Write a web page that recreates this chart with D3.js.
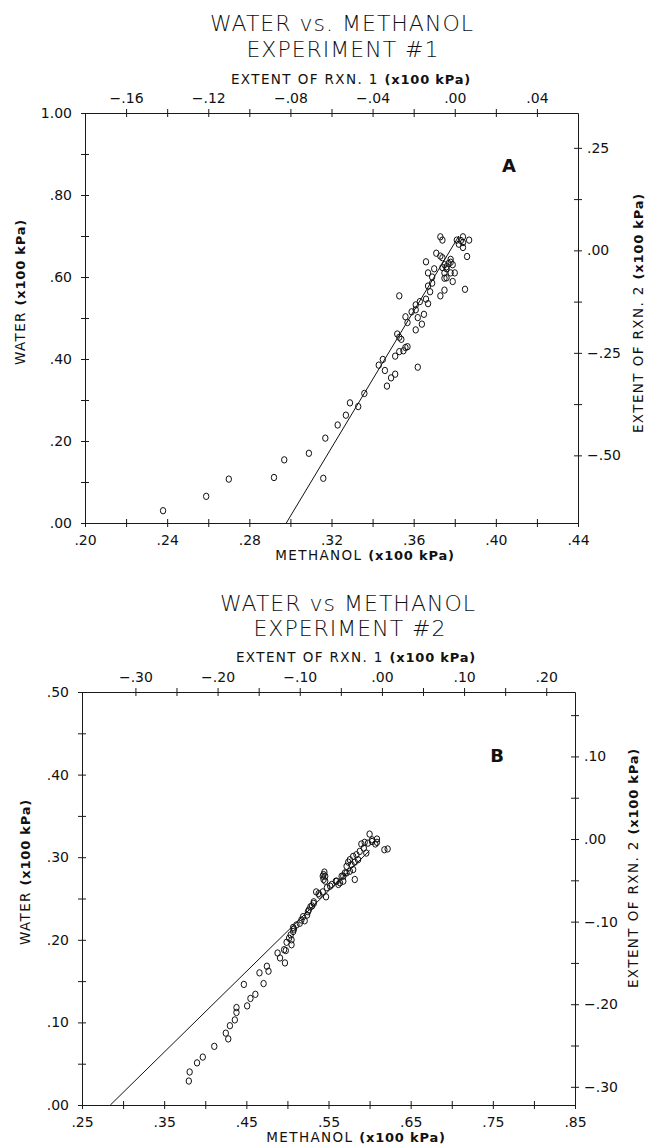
<!DOCTYPE html>
<html>
<head>
<meta charset="utf-8">
<script src="https://cdn.jsdelivr.net/npm/d3@7"></script>
<style>
  body { margin: 0; background: #fff; }
  svg { display: block; }
  text { font-family: "DejaVu Sans", sans-serif; fill: #111; }
  .title { font-size: 22px; font-weight: 200; letter-spacing: 1px; }
  .lab { font-size: 13.5px; font-weight: normal; letter-spacing: 1.4px; }
  .unit { font-size: 13px; font-weight: bold; letter-spacing: 0.8px; }
  .tick text { font-size: 14px; font-family: "DejaVu Sans", sans-serif; fill: #111; }
  .axis path, .axis line { stroke: #1a1a1a; stroke-width: 1; }
  .letter { font-size: 18px; font-weight: bold; }
</style>
</head>
<body>
<div id="chart"></div>
<script>
const FRAME_WIDTH = 645;
const FRAME_HEIGHT = 1147;

// ---- Experiment #1 (panel A) ----
const methanolA = [.238,.259,.270,.292,.297,.309,.316,.317,.323,.327,.329,.333,.336,.343,.345,.346,.347,.349,.351,.351,
                   .352,.353,.354,.353,.355,.356,.357,.362,.361,.356,.357,.359,.361,.362,.364,.365,.361,.363,.366,.367,
                   .368,.353,.373,.375,.375,.376,.377,.376,.379,.385,.378,.375,.374,.366,.367,.373,.386,.374,.373,.374,
                   .371,.381,.384,.387,.383,.384,.382,.384,.378,.378,.379,.375,.380,.376,.369,.370,.369,.367];
const waterA    = [.030,.065,.107,.111,.154,.170,.109,.207,.239,.263,.293,.284,.316,.385,.399,.372,.334,.354,.363,.407,
                   .461,.453,.448,.418,.420,.428,.430,.380,.471,.503,.489,.515,.520,.501,.485,.509,.532,.540,.546,.535,
                   .564,.554,.554,.568,.597,.625,.633,.620,.589,.570,.610,.610,.623,.637,.610,.651,.650,.647,.698,.690,
                   .658,.690,.698,.690,.689,.684,.680,.672,.643,.636,.630,.630,.610,.598,.600,.620,.585,.578];
const fitMethanolA = [.298, .382];
const fitWaterA = [.000, .700];

// ---- Experiment #2 (panel B) ----
const methanolB = [.380,.381,.390,.397,.411,.425,.428,.430,.436,.438,.438,.447,.451,.455,.461,.466,.471,.475,.477,.488,
                   .491,.497,.496,.498,.499,.502,.504,.507,.507,.508,.511,.515,.517,.521,.525,.526,.530,.532,.535,.539,
                   .543,.544,.547,.505,.505,.546,.546,.519,.524,.528,.532,.538,.543,.548,.554,.560,.564,.568,.572,.582,
                   .600,.603,.603,.609,.609,.607,.598,.594,.590,.622,.618,.593,.588,.584,.580,.596,.586,.582,.576,.574,
                   .578,.572,.580,.576,.570,.566,.559,.562,.568,.552,.544,.545];
const waterB    = [.029,.040,.051,.058,.071,.087,.080,.096,.103,.112,.118,.146,.120,.129,.134,.160,.147,.168,.162,.184,
                   .178,.172,.188,.187,.197,.202,.206,.210,.215,.213,.218,.220,.224,.223,.234,.236,.241,.246,.258,.254,
                   .277,.273,.252,.200,.194,.277,.271,.228,.230,.240,.244,.256,.258,.263,.267,.271,.269,.277,.281,.273,
                   .328,.319,.321,.322,.318,.316,.317,.318,.316,.310,.309,.311,.307,.303,.301,.305,.297,.294,.297,.294,
                   .291,.289,.285,.283,.281,.277,.271,.267,.271,.265,.279,.282];
const fitMethanolB = [.2845, .600];
const fitWaterB = [.000, .308];

// tick values (labelled / unlabelled)
const xMajorA = [.20,.24,.28,.32,.36,.40,.44],   xMinorA = [.22,.26,.30,.34,.38,.42];
const topMajorA = [-.16,-.12,-.08,-.04,.00,.04], topMinorA = [-.14,-.10,-.06,-.02,.02];
const yMajorA = [.00,.20,.40,.60,.80,1.00],      yMinorA = [.10,.30,.50,.70,.90];
const rightMajorA = [.25,.00,-.25,-.50],         rightMinorA = [.125,-.125,-.375];

const xMajorB = [.25,.35,.45,.55,.65,.75,.85],   xMinorB = [.30,.40,.50,.60,.70,.80];
const topMajorB = [-.30,-.20,-.10,.00,.10,.20],  topMinorB = [-.25,-.15,-.05,.05,.15];
const yMajorB = [.00,.10,.20,.30,.40,.50],       yMinorB = [.05,.15,.25,.35,.45];
const rightMajorB = [.10,.00,-.10,-.20,-.30],    rightMinorB = [.15,.05,-.05,-.15,-.25];

const SVG = d3.select('#chart')
    .append('svg')
        .attr('width', FRAME_WIDTH)
        .attr('height', FRAME_HEIGHT);

// ".20" style numbers, long minus
function fmt(v) {
    let s = d3.format('.2f')(Math.abs(v));
    if (s.startsWith('0')) s = s.slice(1);
    return (v < -1e-9 ? '\u2212' : '') + s;
}

// axis whose ticks cross the line
function drawAxis(axisFn, scale, majors, minors, tx, ty, pad) {
    const vertical = (axisFn === d3.axisLeft || axisFn === d3.axisRight);
    const g = SVG.append('g')
        .attr('class', 'axis')
        .attr('transform', 'translate(' + tx + ',' + ty + ')')
        .call(axisFn(scale)
            .tickValues(majors.concat(minors))
            .tickFormat(d => majors.includes(d) ? fmt(d) : '')
            .tickSize(4)
            .tickSizeOuter(0)
            .tickPadding(pad));
    g.selectAll('.tick line')
        .attr(vertical ? 'x1' : 'y1', -4)
        .attr(vertical ? 'x2' : 'y2', 4);
    return g;
}

function axisLabel(x, y, rot, anchor, plain, bold) {
    const t = SVG.append('text')
        .attr('class', 'lab')
        .attr('text-anchor', anchor)
        .attr('transform', 'translate(' + x + ',' + y + ') rotate(' + rot + ')');
    t.append('tspan').text(plain);
    t.append('tspan').attr('class', 'unit').text(bold);
}

function scatter(xs, ys, methanol, water, fitM, fitW) {
    SVG.append('g').selectAll('ellipse')
        .data(methanol)
        .enter()
        .append('ellipse')
            .attr('cx', d => xs(d))
            .attr('cy', (d, i) => ys(water[i]))
            .attr('rx', 2.7)
            .attr('ry', 3.2)
            .attr('fill', 'none')
            .attr('stroke', '#111')
            .attr('stroke-width', 1);

    const line = d3.line()
        .x(d => xs(d[0]))
        .y(d => ys(d[1]));
    SVG.append('path')
        .datum(fitM.map((m, i) => [m, fitW[i]]))
        .attr('d', line)
        .attr('fill', 'none')
        .attr('stroke', '#111')
        .attr('stroke-width', 1);
}

// ---------------- Panel A ----------------
const A = {left: 85, right: 578, top: 113, bottom: 523};

const X_A = d3.scaleLinear().domain([.20, .44]).range([A.left, A.right]);
const Y_A = d3.scaleLinear().domain([0, 1]).range([A.bottom, A.top]);
const X2_A = d3.scaleLinear().domain([-.18, .06]).range([A.left, A.right]);
const Y2_A = d3.scaleLinear().domain([-.665, .335]).range([A.bottom, A.top]);

drawAxis(d3.axisBottom, X_A, xMajorA, xMinorA, 0, A.bottom, 8);
drawAxis(d3.axisTop, X2_A, topMajorA, topMinorA, 0, A.top, 6);
drawAxis(d3.axisLeft, Y_A, yMajorA, yMinorA, A.left, 0, 9);
drawAxis(d3.axisRight, Y2_A, rightMajorA, rightMinorA, A.right, 0, 5);

SVG.append('text').attr('class', 'title').attr('text-anchor', 'middle')
    .attr('x', 342).attr('y', 31).text('WATER vs. METHANOL');
SVG.append('text').attr('class', 'title').attr('text-anchor', 'middle')
    .attr('x', 343).attr('y', 57).text('EXPERIMENT #1');

axisLabel(351, 84, 0, 'middle', 'EXTENT OF RXN. 1 ', '(x100 kPa)');
axisLabel(365, 560, 0, 'middle', 'METHANOL ', '(x100 kPa)');
axisLabel(25, 292, -90, 'middle', 'WATER ', '(x100 kPa)');
axisLabel(643, 313, -90, 'middle', 'EXTENT OF RXN. 2 ', '(x100 kPa)');

SVG.append('text').attr('class', 'letter').attr('text-anchor', 'middle')
    .attr('x', 509).attr('y', 172).text('A');

scatter(X_A, Y_A, methanolA, waterA, fitMethanolA, fitWaterA);

// ---------------- Panel B ----------------
const B = {left: 82, right: 575, top: 692, bottom: 1105};

const X_B = d3.scaleLinear().domain([.25, .85]).range([B.left, B.right]);
const Y_B = d3.scaleLinear().domain([0, .5]).range([B.bottom, B.top]);
const X2_B = d3.scaleLinear().domain([-.365, .235]).range([B.left, B.right]);
const Y2_B = d3.scaleLinear().domain([-.322, .178]).range([B.bottom, B.top]);

drawAxis(d3.axisBottom, X_B, xMajorB, xMinorB, 0, B.bottom, 8);
drawAxis(d3.axisTop, X2_B, topMajorB, topMinorB, 0, B.top, 6);
drawAxis(d3.axisLeft, Y_B, yMajorB, yMinorB, B.left, 0, 9);
drawAxis(d3.axisRight, Y2_B, rightMajorB, rightMinorB, B.right, 0, 5);

SVG.append('text').attr('class', 'title').attr('text-anchor', 'middle')
    .attr('x', 348).attr('y', 611).text('WATER vs METHANOL');
SVG.append('text').attr('class', 'title').attr('text-anchor', 'middle')
    .attr('x', 350).attr('y', 636).text('EXPERIMENT #2');

axisLabel(356, 662, 0, 'middle', 'EXTENT OF RXN. 1 ', '(x100 kPa)');
axisLabel(356, 1142, 0, 'middle', 'METHANOL ', '(x100 kPa)');
axisLabel(30, 872, -90, 'middle', 'WATER ', '(x100 kPa)');
axisLabel(638, 868, -90, 'middle', 'EXTENT OF RXN. 2 ', '(x100 kPa)');

SVG.append('text').attr('class', 'letter').attr('text-anchor', 'middle')
    .attr('x', 497).attr('y', 762).text('B');

scatter(X_B, Y_B, methanolB, waterB, fitMethanolB, fitWaterB);
</script>
</body>
</html>
